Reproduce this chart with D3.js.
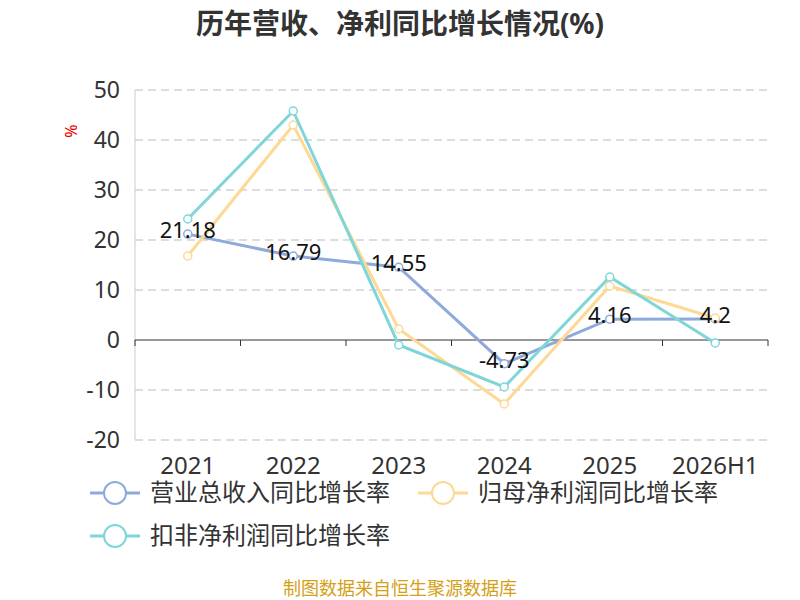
<!DOCTYPE html>
<html><head><meta charset="utf-8">
<script src="https://cdn.jsdelivr.net/npm/d3@7"></script>
<style>body{margin:0;background:#fff}text{font-family:"Noto Sans","Noto Sans CJK SC",sans-serif}</style>
</head><body><svg width="800" height="600"></svg>
<script>
const categories=["2021","2022","2023","2024","2025","2026H1"];
const revenue=[21.18,16.79,14.55,-4.73,4.16,4.2];
const netProfit=[16.8,43.0,2.2,-12.8,10.8,4.4];
const deducted=[24.2,45.8,-1.0,-9.4,12.6,-0.6];
const yTicks=[50,40,30,20,10,0,-10,-20];
const names=["营业总收入同比增长率","归母净利润同比增长率","扣非净利润同比增长率"];
const colors=["#8eaadb","#fdd995","#7fd6d8"];
const svg=d3.select("svg");
const x=d3.scaleBand().domain(categories).range([135,768]);
const y=d3.scaleLinear().domain([-20,50]).range([440,90]);
svg.append("text").attr("x",400).attr("y",34).attr("text-anchor","middle").attr("font-size",28).attr("font-weight","bold").attr("fill","#333").text("历年营收、净利同比增长情况(%)");
svg.append("text").attr("transform","translate(77,131) rotate(-90)").attr("text-anchor","middle").attr("font-size",16).attr("fill","#e00").text("%");
yTicks.forEach(t=>{
 if(t!==0) svg.append("line").attr("x1",135).attr("x2",768).attr("y1",y(t)).attr("y2",y(t)).attr("stroke","#bbb").attr("stroke-dasharray","8,5");
 svg.append("text").attr("x",120).attr("y",y(t)+8).attr("text-anchor","end").attr("font-size",23).attr("fill","#333").text(t);
});
svg.append("line").attr("x1",135).attr("x2",135).attr("y1",90).attr("y2",440).attr("stroke","#ccc");
svg.append("line").attr("x1",135).attr("x2",768).attr("y1",y(0)).attr("y2",y(0)).attr("stroke","#333");
x.domain().concat([null]).forEach((c,i)=>{const xx=135+i*x.bandwidth();svg.append("line").attr("x1",xx).attr("x2",xx).attr("y1",y(0)).attr("y2",y(0)+6).attr("stroke","#333");});
categories.forEach(c=>svg.append("text").attr("x",x(c)+x.bandwidth()/2).attr("y",474).attr("text-anchor","middle").attr("font-size",24).attr("fill","#333").text(c));
const cx=c=>x(c)+x.bandwidth()/2;
[revenue,netProfit,deducted].forEach((s,k)=>{
 svg.append("path").datum(s).attr("fill","none").attr("stroke",colors[k]).attr("stroke-width",3)
  .attr("d",d3.line().x((d,i)=>cx(categories[i])).y(d=>y(d)));
 s.forEach((d,i)=>svg.append("circle").attr("cx",cx(categories[i])).attr("cy",y(d)).attr("r",4).attr("fill","#fff").attr("stroke",colors[k]).attr("stroke-width",1.5));
});
revenue.forEach((d,i)=>svg.append("text").attr("x",cx(categories[i])).attr("y",y(d)+4).attr("text-anchor","middle").attr("font-size",22).attr("fill","#111").text(d));
const leg=[[90,493],[418,493],[90,536]];
names.forEach((n,k)=>{const [lx,ly]=leg[k];
 svg.append("line").attr("x1",lx).attr("x2",lx+50).attr("y1",ly).attr("y2",ly).attr("stroke",colors[k]).attr("stroke-width",3);
 svg.append("circle").attr("cx",lx+25).attr("cy",ly).attr("r",11).attr("fill","#fff").attr("stroke",colors[k]).attr("stroke-width",2);
 svg.append("text").attr("x",lx+60).attr("y",ly+8).attr("font-size",24).attr("fill","#333").text(n);
});
svg.append("text").attr("x",400).attr("y",595).attr("text-anchor","middle").attr("font-size",18).attr("fill","#d4a017").text("制图数据来自恒生聚源数据库");
</script></body></html>
